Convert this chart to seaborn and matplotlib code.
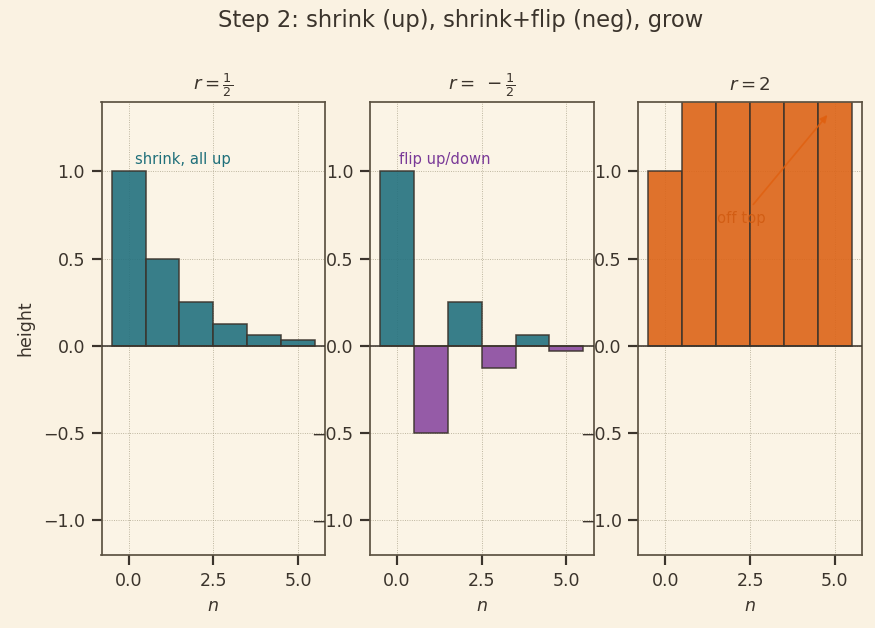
import matplotlib
matplotlib.use("Agg")
import matplotlib.pyplot as plt
import seaborn as sns
import pandas as pd

n_vals = [0, 1, 2, 3, 4, 5]
half_vals = [1.0, 0.5, 0.25, 0.125, 0.0625, 0.03125]
neg_half_vals = [1.0, -0.5, 0.25, -0.125, 0.0625, -0.03125]
two_vals = [1.0, 2.0, 4.0, 8.0, 16.0, 32.0]
panel_titles = [r"$r=\frac{1}{2}$", r"$r=\;-\frac{1}{2}$", r"$r=2$"]

fig_bg = "#faf2e2"
ax_bg = "#fbf4e6"
ink = "#3b342c"
teal = "#23717f"
purple = "#8a4aa0"
orange = "#dc6418"

sns.set_theme(style="ticks")
plt.rcParams.update({
    "figure.facecolor": fig_bg,
    "axes.facecolor": ax_bg,
    "axes.edgecolor": "#5c5242",
    "axes.linewidth": 1.0,
    "text.color": ink,
    "axes.labelcolor": ink,
    "xtick.color": ink,
    "ytick.color": ink,
    "axes.titlecolor": ink,
})
plt.rcParams["font.family"] = ["DejaVu Sans"]

fig, axes = plt.subplots(1, 3, figsize=(7.0, 5.024), dpi=125)
fig.subplots_adjust(left=0.116, right=0.985, top=0.838, bottom=0.116, wspace=0.2)

series = [half_vals, neg_half_vals, two_vals]
for ax, vals, title in zip(axes, series, panel_titles):
    df = pd.DataFrame({"n": n_vals, "height": vals})
    df["sign"] = ["pos" if v >= 0 else "neg" for v in vals]
    pal = {"pos": orange if vals is two_vals else teal, "neg": purple}
    sns.barplot(data=df, x="n", y="height", hue="sign", palette=pal,
                native_scale=True, width=1.0, dodge=False, legend=False,
                saturation=1, edgecolor=ink, linewidth=0.9, alpha=0.9,
                ax=ax, zorder=2)
    ax.axhline(0, color=ink, lw=0.9, zorder=3)
    ax.set_ylim(-1.2, 1.4)
    ax.set_xlim(-0.8, 5.8)
    ax.set_xticks([0, 2.5, 5.0])
    ax.set_xticklabels(["0.0", "2.5", "5.0"])
    ax.set_yticks([-1.0, -0.5, 0.0, 0.5, 1.0])
    ax.set_yticklabels(["\u22121.0", "\u22120.5", "0.0", "0.5", "1.0"])
    ax.grid(True, ls=":", lw=0.5, color="#b0a890")
    ax.set_axisbelow(True)
    ax.set_title(title, fontsize=10.5, pad=7)
    ax.set_xlabel("$n$", fontsize=10)
    ax.set_ylabel("")
    ax.tick_params(labelsize=10)

axes[0].set_ylabel("height", fontsize=10, labelpad=5)
axes[0].text(0.2, 1.07, "shrink, all up", color="#1f6f7a", fontsize=8.5, va="center")
axes[1].text(0.05, 1.07, "flip up/down", color="#7a3a98", fontsize=8.5, va="center")
axes[2].annotate("off top", xy=(4.85, 1.34), xytext=(2.25, 0.73),
                 color="#d05a10", fontsize=8.5, ha="center", va="center", alpha=0.85,
                 arrowprops=dict(arrowstyle="-|>", color="#e06010", lw=1.0, alpha=0.8))

fig.suptitle("Step 2: shrink (up), shrink+flip (neg), grow", fontsize=13, x=0.526, y=0.985)

plt.savefig("out.png", dpi=125, facecolor=fig_bg)
plt.close()
